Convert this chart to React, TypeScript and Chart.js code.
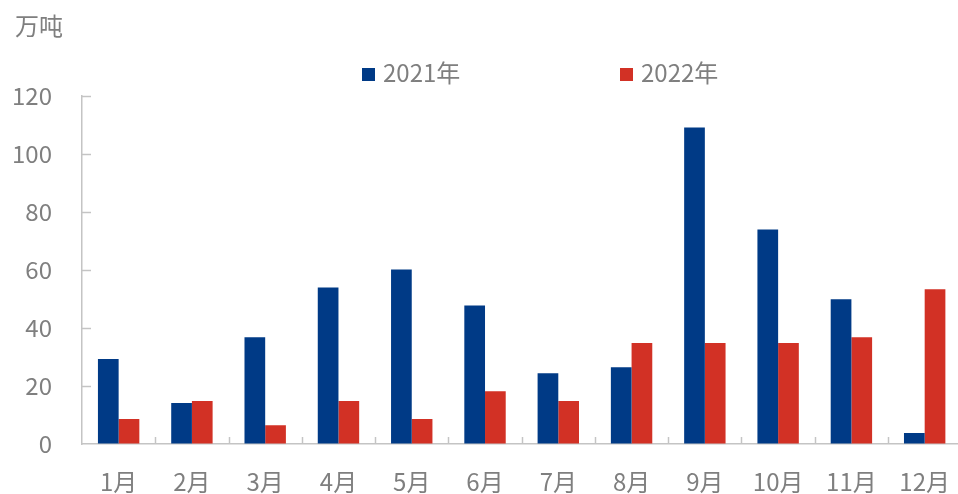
import React, { useEffect, useRef } from "react";
import { Chart, registerables } from "chart.js";

Chart.register(...registerables);

const MONTHS = ["1月", "2月", "3月", "4月", "5月", "6月", "7月", "8月", "9月", "10月", "11月", "12月"];
const SERIES_NAMES = ["2021年", "2022年"];
const VALUES_2021 = [29.3, 14.1, 36.8, 54.0, 60.2, 47.8, 24.4, 26.5, 109.1, 74.0, 49.9, 3.8];
const VALUES_2022 = [8.6, 14.8, 6.5, 14.8, 8.6, 18.2, 14.8, 34.8, 34.8, 34.8, 36.8, 53.4];
const Y_MIN = 0;
const Y_MAX = 120;
const Y_STEP = 20;
const UNIT = "万吨";

const COLORS = ["#003a86", "#d23125"];
const AXIS_COLOR = "#c4c4c4";
const TEXT_COLOR = "#7f7f7f";
const FONT = "'Noto Sans CJK SC', 'Noto Sans', sans-serif";
const FONT_SIZE = 24;
const CANVAS_W = 973;

const innerTicks = {
  id: "innerTicks",
  afterDraw(chart: any) {
    const { ctx, chartArea, scales } = chart;
    const x = scales.x;
    const y = scales.y;
    ctx.save();
    ctx.strokeStyle = AXIS_COLOR;
    ctx.lineWidth = 1.5;
    y.ticks.forEach((_t: any, i: number) => {
      if (i === 0) return;
      const py = Math.round(y.getPixelForTick(i)) + 0.5;
      ctx.beginPath();
      ctx.moveTo(chartArea.left, py);
      ctx.lineTo(chartArea.left + 9, py);
      ctx.stroke();
    });
    const n = MONTHS.length;
    for (let i = 1; i <= n; i++) {
      const px =
        i < n
          ? (x.getPixelForValue(i - 1) + x.getPixelForValue(i)) / 2
          : x.right;
      const rx = Math.round(px) + 0.5;
      ctx.beginPath();
      ctx.moveTo(rx, chartArea.bottom);
      ctx.lineTo(rx, chartArea.bottom - 7);
      ctx.stroke();
    }
    ctx.restore();
  },
};

export default function App() {
  const ref = useRef<HTMLCanvasElement | null>(null);

  useEffect(() => {
    if (!ref.current) return;
    const chart = new Chart(ref.current, {
      type: "bar",
      data: {
        labels: MONTHS,
        datasets: [
          { label: SERIES_NAMES[0], data: VALUES_2021, backgroundColor: COLORS[0] },
          { label: SERIES_NAMES[1], data: VALUES_2022, backgroundColor: COLORS[1] },
        ],
      },
      options: {
        animation: false,
        responsive: false,
        maintainAspectRatio: false,
        layout: { padding: { top: 96, right: 0, left: 0, bottom: 0 } },
        datasets: {
          bar: { categoryPercentage: 0.565, barPercentage: 1 },
        },
        plugins: {
          legend: { display: false },
          tooltip: { enabled: false },
        },
        scales: {
          x: {
            grid: { display: true, drawOnChartArea: false, drawTicks: false },
            border: { display: true, color: AXIS_COLOR, width: 1.5 },
            ticks: {
              color: TEXT_COLOR,
              font: { family: FONT, size: FONT_SIZE },
              padding: 23,
              maxRotation: 0,
            },
            afterFit(scale: any) {
              scale.height = 50;
            },
          },
          y: {
            min: Y_MIN,
            max: Y_MAX,
            grid: { display: true, drawOnChartArea: false, drawTicks: false },
            border: { display: true, color: AXIS_COLOR, width: 1.5 },
            ticks: {
              stepSize: Y_STEP,
              color: TEXT_COLOR,
              font: { family: FONT, size: FONT_SIZE },
              padding: 30,
            },
            afterFit(scale: any) {
              scale.width = 82;
            },
          },
        },
      },
      plugins: [innerTicks],
    });
    return () => chart.destroy();
  }, []);

  const textStyle: React.CSSProperties = {
    position: "absolute",
    fontFamily: FONT,
    fontSize: FONT_SIZE,
    color: TEXT_COLOR,
    lineHeight: "24px",
    whiteSpace: "nowrap",
  };

  return (
    <div
      style={{
        position: "fixed",
        left: 0,
        top: 0,
        width: 958,
        height: 494,
        overflow: "hidden",
        background: "#fff",
      }}
    >
      <canvas ref={ref} width={CANVAS_W} height={494} style={{ display: "block", width: CANVAS_W, height: 494 }} />
      <div style={{ ...textStyle, left: 15, top: 13 }}>{UNIT}</div>
      {SERIES_NAMES.map((name, i) => (
        <div key={name} style={{ position: "absolute", left: i === 0 ? 362 : 620, top: 60, height: 24, display: "flex", alignItems: "center" }}>
          <span style={{ display: "inline-block", width: 13, height: 13, background: COLORS[i], marginRight: 8, marginTop: 4 }} />
          <span style={{ ...textStyle, position: "static" }}>{name}</span>
        </div>
      ))}
    </div>
  );
}
